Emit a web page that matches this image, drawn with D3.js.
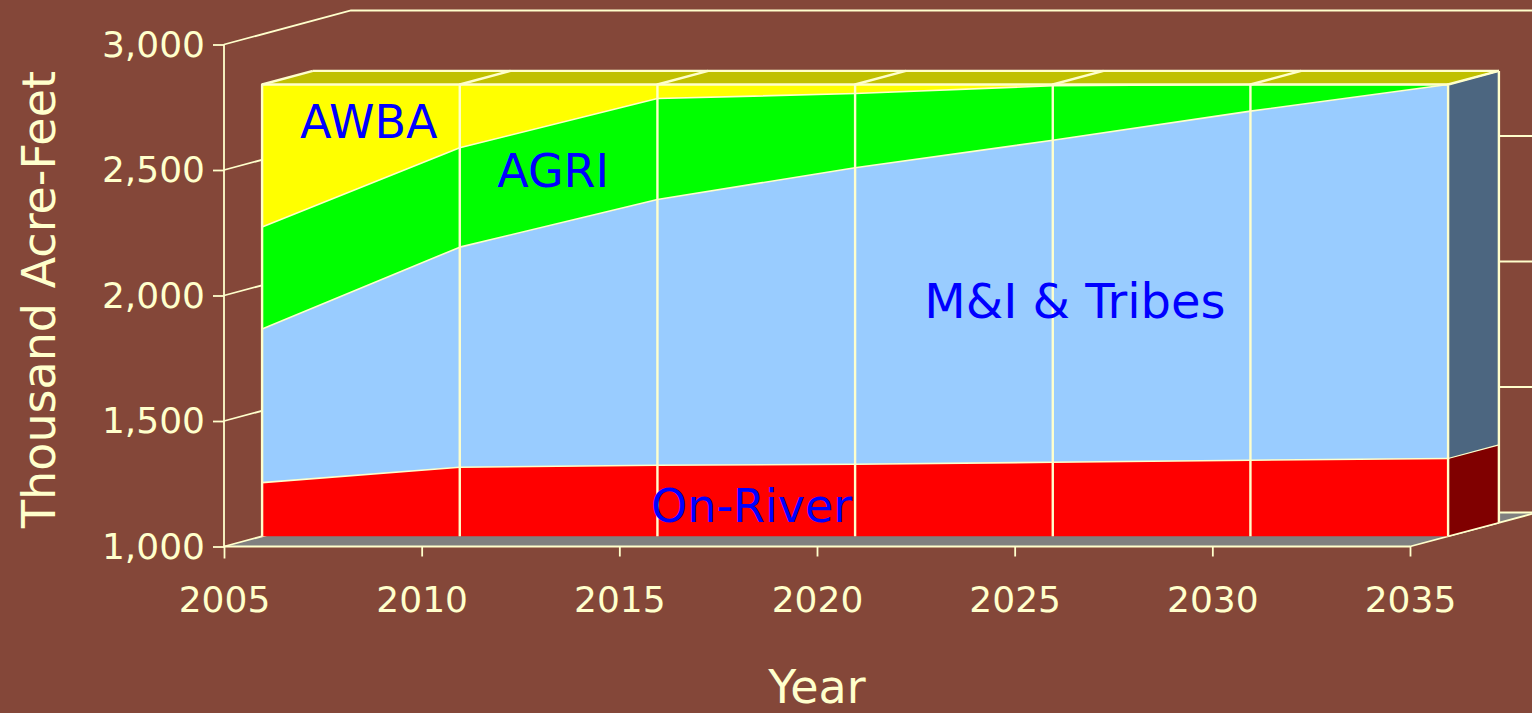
<!DOCTYPE html>
<html>
<head>
<meta charset="utf-8">
<script src="https://cdn.jsdelivr.net/npm/d3@7"></script>
<style>
  body { margin: 0; background: #844739; }
  svg { display: block; }
  text { font-family: "Comic Sans MS", "DejaVu Sans", sans-serif; }
</style>
</head>
<body>
<svg id="viz"></svg>
<script>
// Values, thousand acre-feet
const years = [2005, 2010, 2015, 2020, 2025, 2030, 2035];
const onRiver = [1214, 1275, 1283, 1287, 1295, 1303, 1310];
const mandi = [612, 877, 1059, 1181, 1283, 1391, 1490];
const agri = [406, 396, 402, 296, 217, 106, 0];
const awba = [568, 252, 56, 36, 5, 0, 0];

const keys = ["onRiver", "mandi", "agri", "awba"];
const yTicks = [1000, 1500, 2000, 2500, 3000];
const xTicks = [2005, 2010, 2015, 2020, 2025, 2030, 2035];

// label anchors in data space (on the block's front face)
const labels = [
  {text: "AWBA", year: 2005.96, value: 2585, size: 46},
  {text: "AGRI", year: 2010.95, value: 2390, size: 46},
  {text: "M&I & Tribes", year: 2021.75, value: 1870, size: 48},
  {text: "On-River", year: 2014.84, value: 1055, size: 46}
];

const width = 1532, height = 713;
const cream = "#FFFFCC";
const fills = {onRiver: "#FF0000", mandi: "#99CCFF", agri: "#00FF00", awba: "#FFFF00"};
const sides = {onRiver: "#800000", mandi: "#4C6680", agri: "#008000", awba: "#808000"};

// depth of the whole box, and where the block sits in it
const DX = 127, DY = 34;
const zF = 0.3, zB = 0.7;

const data = years.map((yr, i) => ({year: yr, onRiver: onRiver[i], mandi: mandi[i], agri: agri[i], awba: awba[i]}));
const series = d3.stack().keys(keys)(data);

const svg = d3.select("#viz").attr("width", width).attr("height", height);

const x = d3.scaleLinear().domain([2005, 2035]).range([224, 1410]);
const y = d3.scaleLinear().domain([1000, 3000]).range([546.5, 44.5]);

// project (year, value, depth) onto the page
let P = function(yr, v, z) {
  return [x(yr) + z * DX, y(Math.max(v, 1000)) - z * DY];
};
let line = d3.line();

const first = years[0], last = years[years.length - 1];
const topS = series[series.length - 1];

// floor
svg.append("path")
  .attr("d", line([P(first, 1000, 0), P(last, 1000, 0), P(last, 1000, 1), P(first, 1000, 1)]) + "Z")
  .attr("fill", "#808080");

// walls: left diagonals + back horizontals
const walls = svg.append("g").attr("stroke", cream).attr("stroke-width", 1.8).attr("fill", "none");
yTicks.forEach(v => {
  walls.append("path").attr("d", line([P(first, v, 0), P(first, v, 1), P(last, v, 1)]));
});
walls.append("path").attr("d", line([P(last, 1000, 0), P(last, 1000, 1)]));

// block front faces
const block = svg.append("g");
series.forEach(s => {
  let pts = s.map(d => P(d.data.year, d[1], zF))
    .concat(s.slice().reverse().map(d => P(d.data.year, d[0], zF)));
  block.append("path").attr("d", line(pts) + "Z").attr("fill", fills[s.key]);
});

// top face
let topPts = topS.map(d => P(d.data.year, d[1], zF))
  .concat(topS.slice().reverse().map(d => P(d.data.year, d[1], zB)));
block.append("path").attr("d", line(topPts) + "Z").attr("fill", "#C0C000");

// right faces
series.forEach(s => {
  let d = s[s.length - 1];
  if (d[1] - d[0] <= 0) return;
  block.append("path")
    .attr("d", line([P(last, d[0], zF), P(last, d[1], zF), P(last, d[1], zB), P(last, d[0], zB)]) + "Z")
    .attr("fill", sides[s.key]);
});

// edges and grid lines on the block
const edges = svg.append("g").attr("stroke", cream).attr("fill", "none").attr("stroke-linejoin", "round");
series.slice(0, -1).forEach(s => {
  edges.append("path").attr("stroke-width", 1.6)
    .attr("d", line(s.map(d => P(d.data.year, d[1], zF))));
  let d = s[s.length - 1];
  edges.append("path").attr("stroke-width", 1.2)
    .attr("d", line([P(last, d[1], zF), P(last, d[1], zB)]));
});
topS.forEach(d => {
  edges.append("path").attr("stroke-width", 2.4)
    .attr("d", line([P(d.data.year, 1000, zF), P(d.data.year, d[1], zF), P(d.data.year, d[1], zB)]));
});
edges.append("path").attr("stroke-width", 2.4)
  .attr("d", line(topS.map(d => P(d.data.year, d[1], zF))));
edges.append("path").attr("stroke-width", 2.4)
  .attr("d", line(topS.map(d => P(d.data.year, d[1], zB))));
edges.append("path").attr("stroke-width", 2.4)
  .attr("d", line([P(last, 1000, zB), P(last, topS[topS.length - 1][1], zB)]));
edges.append("path").attr("stroke-width", 1.4)
  .attr("d", line([P(last, 1000, zF), P(last, 1000, zB)]));

// series labels
svg.append("g").selectAll("text").data(labels).join("text")
  .attr("x", d => P(d.year, d.value, zF)[0])
  .attr("y", d => P(d.year, d.value, zF)[1])
  .attr("fill", "#0000FF")
  .attr("font-size", d => d.size)
  .text(d => d.text);

// axes
const yAxis = svg.append("g")
  .attr("transform", "translate(224,0)")
  .call(d3.axisLeft(y).tickValues(yTicks).tickSize(11).tickPadding(8).tickFormat(d3.format(",")));
const xAxis = svg.append("g")
  .attr("transform", "translate(0,546.5)")
  .call(d3.axisBottom(x).tickValues(xTicks).tickSize(10).tickPadding(30).tickFormat(d3.format("d")));

[yAxis, xAxis].forEach(a => {
  a.select(".domain").remove();
  a.selectAll("line").attr("stroke", cream).attr("stroke-width", 1.8);
  a.selectAll("text").attr("fill", cream).attr("font-size", 36)
    .style("font-family", "'Comic Sans MS', 'DejaVu Sans', sans-serif");
});
xAxis.select(".tick line").attr("y2", 12);

svg.append("path").attr("stroke", cream).attr("stroke-width", 1.8).attr("fill", "none")
  .attr("d", line([[x(first), y(3000)], [x(first), y(1000)], [x(last), y(1000)]]));

// titles
svg.append("text")
  .attr("transform", "translate(55," + ((y(1000) + y(3000)) / 2 + 4) + ") rotate(-90)")
  .attr("text-anchor", "middle")
  .attr("fill", cream)
  .attr("font-size", 46)
  .text("Thousand Acre-Feet");

svg.append("text")
  .attr("x", (x(first) + x(last)) / 2)
  .attr("y", 703)
  .attr("text-anchor", "middle")
  .attr("fill", cream)
  .attr("font-size", 46)
  .text("Year");
</script>
</body>
</html>
